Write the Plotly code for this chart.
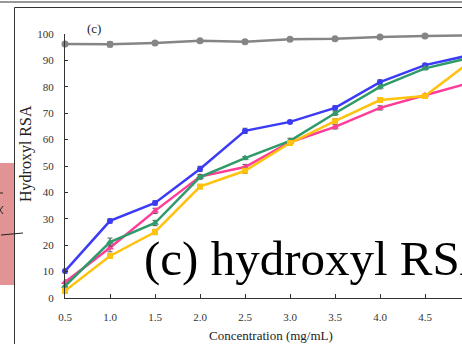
import plotly.graph_objects as go

conc = [0.5, 1.0, 1.5, 2.0, 2.5, 3.0, 3.5, 4.0, 4.5, 5.0]
grey = [96.2, 96.1, 96.6, 97.4, 97.1, 98.0, 98.2, 98.9, 99.2, 99.5]
blue = [10.2, 29.2, 36.0, 48.9, 63.3, 66.7, 72.0, 81.8, 88.2, 92.0]
green = [4.5, 21.2, 28.4, 45.8, 53.0, 59.5, 70.0, 80.0, 87.0, 91.0]
pink = [6.0, 19.0, 33.0, 46.0, 49.6, 59.0, 64.8, 72.0, 76.8, 81.5]
yellow = [2.7, 15.9, 25.0, 42.2, 48.2, 58.7, 67.0, 75.0, 76.5, 89.5]
err_grey = [0.6, 1.0, 0.5, 0.5, 0.5, 0.5, 0.5, 0.5, 0.5, 0.5]
err_blue = [0.8, 0.8, 0.8, 1.0, 1.0, 0.6, 0.8, 0.8, 0.6, 0.6]
err_green = [0.8, 1.5, 1.0, 0.8, 0.6, 1.0, 0.8, 0.8, 0.6, 0.6]
err_pink = [0.8, 1.5, 1.0, 0.8, 1.0, 0.8, 0.8, 0.8, 0.6, 0.6]
err_yellow = [0.8, 0.8, 1.0, 0.8, 1.0, 0.8, 1.0, 0.8, 0.6, 0.6]

W, H = 462, 344
L, R, T, B = 65, 0, 34, 46
PW, PH = W - L - R, H - T - B


def px(x):
    return (x - L) / PW


def py(y):
    return (H - B - y) / PH


fig = go.Figure()
series = [
    (grey, err_grey, "#858585", "circle", 7),
    (blue, err_blue, "#3b3bf7", "circle", 6),
    (pink, err_pink, "#ff3d98", "triangle-up", 7),
    (green, err_green, "#2f9a6a", "triangle-up", 7),
    (yellow, err_yellow, "#ffc20e", "square", 6),
]
for ys, es, col, sym, sz in series:
    fig.add_trace(go.Scatter(
        x=conc, y=ys, mode="lines+markers",
        line=dict(color=col, width=2.5),
        marker=dict(color=col, symbol=sym, size=sz),
        error_y=dict(type="data", array=es, color="#555555", thickness=1, width=2.5),
        cliponaxis=False, showlegend=False,
    ))

tick_font = dict(family="Liberation Serif", size=11, color="#333333")
fig.update_xaxes(
    range=[0.5, 0.5 + PW / 90.0], tickvals=[0.5, 1.0, 1.5, 2.0, 2.5, 3.0, 3.5, 4.0, 4.5, 5.0],
    ticktext=["0.5", "1.0", "1.5", "2.0", "2.5", "3.0", "3.5", "4.0", "4.5", "5.0"],
    showline=True, linecolor="#333333", linewidth=1, ticks="inside", ticklen=4,
    tickcolor="#333333", showgrid=False, zeroline=False, tickfont=tick_font,
    ticklabelstandoff=9,
)
fig.update_yaxes(
    range=[0, 100], tickvals=list(range(0, 101, 10)),
    showline=True, linecolor="#333333", linewidth=1, ticks="inside", ticklen=3,
    tickcolor="#333333", showgrid=False, zeroline=False, tickfont=tick_font,
    ticklabelstandoff=8,
)

shapes = [
    dict(type="rect", xref="paper", yref="paper", x0=px(0), x1=px(14), y0=py(285), y1=py(163),
         fillcolor="#e29494", line=dict(width=0), layer="below"),
    dict(type="line", xref="paper", yref="paper", x0=px(0), x1=px(W), y0=py(2), y1=py(2),
         line=dict(color="#333333", width=1.2)),
    dict(type="line", xref="paper", yref="paper", x0=px(14.5), x1=px(W), y0=py(7.5), y1=py(7.5),
         line=dict(color="#333333", width=1.2)),
    dict(type="line", xref="paper", yref="paper", x0=px(14.5), x1=px(14.5), y0=py(7.5), y1=py(H),
         line=dict(color="#333333", width=1)),
    dict(type="line", xref="paper", yref="paper", x0=px(1), x1=px(23), y0=py(235), y1=py(233),
         line=dict(color="#222222", width=1)),
    dict(type="line", xref="paper", yref="paper", x0=px(0), x1=px(3), y0=py(193), y1=py(193),
         line=dict(color="#222222", width=1)),
    dict(type="line", xref="paper", yref="paper", x0=px(3), x1=px(0), y0=py(206), y1=py(210),
         line=dict(color="#222222", width=1)),
    dict(type="line", xref="paper", yref="paper", x0=px(0), x1=px(3), y0=py(210), y1=py(214),
         line=dict(color="#222222", width=1)),
]

annotations = [
    dict(text="(c)", xref="paper", yref="paper", x=px(94), y=py(29), showarrow=False,
         font=dict(family="Liberation Serif", size=13, color="#222222"), xanchor="center", yanchor="middle"),
    dict(text="Hydroxyl RSA", xref="paper", yref="paper", x=px(26), y=py(154), showarrow=False,
         textangle=-90, font=dict(family="Liberation Serif", size=16, color="#222222"),
         xanchor="center", yanchor="middle"),
    dict(text="Concentration (mg/mL)", xref="paper", yref="paper", x=px(271), y=py(335), showarrow=False,
         font=dict(family="Liberation Serif", size=13, color="#222222"), xanchor="center", yanchor="middle"),
    dict(text="(c) hydroxyl RSA", xref="paper", yref="paper", x=px(142), y=py(258), showarrow=False,
         font=dict(family="Liberation Serif", size=49, color="#000000"), xanchor="left", yanchor="middle"),
]

fig.update_layout(
    width=W, height=H, margin=dict(l=L, r=R, t=T, b=B),
    paper_bgcolor="white", plot_bgcolor="white",
    shapes=shapes, annotations=annotations,
)
fig.write_html("out.html", config={"displayModeBar": False},
               post_script="document.body.style.margin='0px';")
